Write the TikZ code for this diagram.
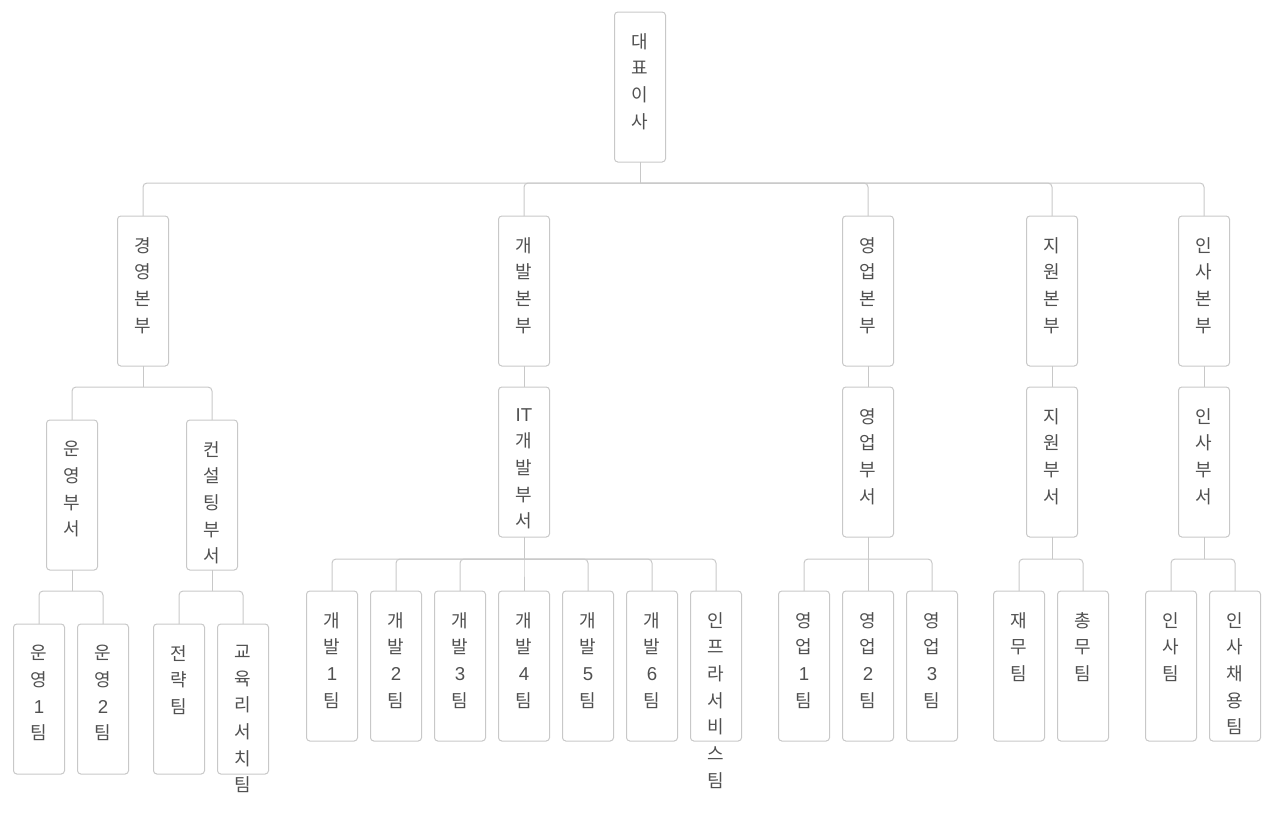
\documentclass[tikz,border=0pt]{standalone}
\usepackage{fontspec}
\setmainfont{Noto Sans CJK KR}
\newfontfamily\lat{Liberation Sans}
\definecolor{lineC}{HTML}{C8C8C8}
\definecolor{txtC}{HTML}{505050}
\newcommand\lbl[1]{\parbox[c][112.5pt][t]{38.25pt}{\centering\fontsize{13.5pt}{20pt}\selectfont\vspace*{16pt}#1\par}}
\newcommand\lt[1]{{\lat\fontsize{14pt}{20pt}\selectfont #1}}
\tikzset{
  box/.style={draw=lineC, line width=0.75pt, rounded corners=2.5pt, inner sep=0pt, outer sep=0pt, anchor=north, text=txtC},
  conn/.style={draw=lineC, line width=0.75pt, rounded corners=3pt},
}
\begin{document}
\begin{tikzpicture}[x=0.75pt, y=-0.75pt]
\useasboundingbox (0,0) rectangle (1281,829);
% level 1
\node[box] (ceo) at (640,12) {\lbl{대\\표\\이\\사}};
% level 2
\node[box] (h1) at (143,216) {\lbl{경\\영\\본\\부}};
\node[box] (h2) at (524,216) {\lbl{개\\발\\본\\부}};
\node[box] (h3) at (868,216) {\lbl{영\\업\\본\\부}};
\node[box] (h4) at (1052,216) {\lbl{지\\원\\본\\부}};
\node[box] (h5) at (1204,216) {\lbl{인\\사\\본\\부}};
% level 3
\node[box] (d1) at (72,420) {\lbl{운\\영\\부\\서}};
\node[box] (d2) at (212,420) {\lbl{컨\\설\\팅\\부\\서}};
\node[box] (d3) at (524,387) {\lbl{\lt{IT}\\개\\발\\부\\서}};
\node[box] (d4) at (868,387) {\lbl{영\\업\\부\\서}};
\node[box] (d5) at (1052,387) {\lbl{지\\원\\부\\서}};
\node[box] (d6) at (1204,387) {\lbl{인\\사\\부\\서}};
% level 4
\node[box] (t1) at (39,624) {\lbl{운\\영\\\lt{1}\\팀}};
\node[box] (t2) at (103,624) {\lbl{운\\영\\\lt{2}\\팀}};
\node[box] (t3) at (179,624) {\lbl{전\\략\\팀}};
\node[box] (t4) at (243,624) {\lbl{교\\육\\리\\서\\치\\팀}};
\node[box] (i1) at (332,591) {\lbl{개\\발\\\lt{1}\\팀}};
\node[box] (i2) at (396,591) {\lbl{개\\발\\\lt{2}\\팀}};
\node[box] (i3) at (460,591) {\lbl{개\\발\\\lt{3}\\팀}};
\node[box] (i4) at (524,591) {\lbl{개\\발\\\lt{4}\\팀}};
\node[box] (i5) at (588,591) {\lbl{개\\발\\\lt{5}\\팀}};
\node[box] (i6) at (652,591) {\lbl{개\\발\\\lt{6}\\팀}};
\node[box] (i7) at (716,591) {\lbl{인\\프\\라\\서\\비\\스\\팀}};
\node[box] (s1) at (804,591) {\lbl{영\\업\\\lt{1}\\팀}};
\node[box] (s2) at (868,591) {\lbl{영\\업\\\lt{2}\\팀}};
\node[box] (s3) at (932,591) {\lbl{영\\업\\\lt{3}\\팀}};
\node[box] (e1) at (1019,591) {\lbl{재\\무\\팀}};
\node[box] (e2) at (1083,591) {\lbl{총\\무\\팀}};
\node[box] (p1) at (1171,591) {\lbl{인\\사\\팀}};
\node[box] (p2) at (1235,591) {\lbl{인\\사\\채\\용\\팀}};
% junctions
\coordinate (j0) at (640,183);
\coordinate (j1) at (143,387);
\coordinate (j11) at (72,591);
\coordinate (j12) at (212,591);
\coordinate (j2) at (524,559);
\coordinate (j3) at (868,559);
\coordinate (j4) at (1052,559);
\coordinate (j5) at (1204,559);
% connectors
\draw[conn] (ceo.south) -- (j0);
\foreach \c in {h1,h2,h3,h4,h5} \draw[conn] (j0) -| (\c.north);
\draw[conn] (h1.south) -- (j1);
\foreach \c in {d1,d2} \draw[conn] (j1) -| (\c.north);
\draw[conn] (h2.south) -- (d3.north);
\draw[conn] (h3.south) -- (d4.north);
\draw[conn] (h4.south) -- (d5.north);
\draw[conn] (h5.south) -- (d6.north);
\draw[conn] (d1.south) -- (j11);
\foreach \c in {t1,t2} \draw[conn] (j11) -| (\c.north);
\draw[conn] (d2.south) -- (j12);
\foreach \c in {t3,t4} \draw[conn] (j12) -| (\c.north);
\draw[conn] (d3.south) -- (j2);
\foreach \c in {i1,i2,i3,i4,i5,i6,i7} \draw[conn] (j2) -| (\c.north);
\draw[conn] (d4.south) -- (j3);
\foreach \c in {s1,s2,s3} \draw[conn] (j3) -| (\c.north);
\draw[conn] (d5.south) -- (j4);
\foreach \c in {e1,e2} \draw[conn] (j4) -| (\c.north);
\draw[conn] (d6.south) -- (j5);
\foreach \c in {p1,p2} \draw[conn] (j5) -| (\c.north);
\end{tikzpicture}
\end{document}
